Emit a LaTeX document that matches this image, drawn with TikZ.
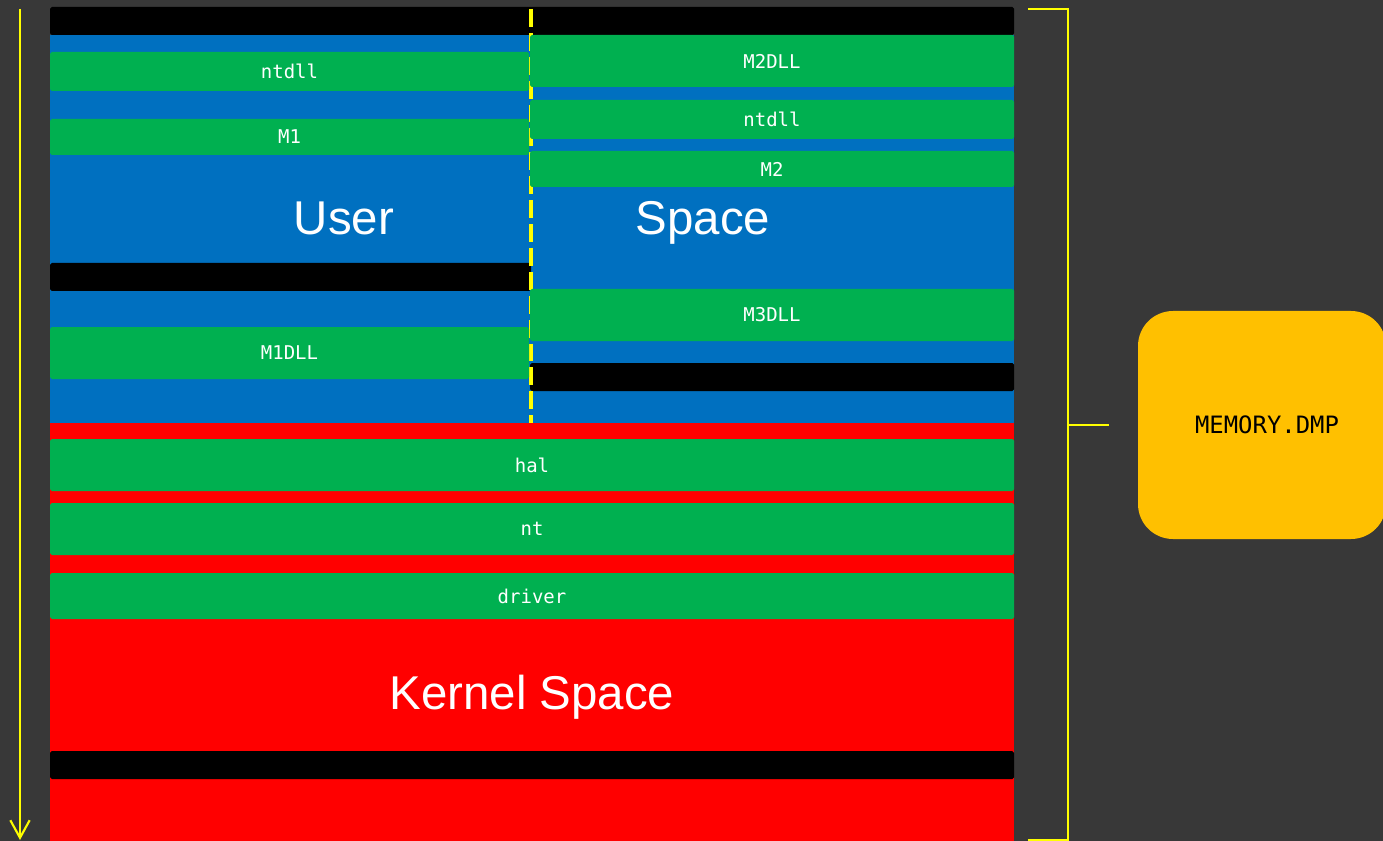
\documentclass[tikz,border=0pt]{standalone}
\usepackage{fontspec}
\setmainfont{Liberation Sans}
\newfontfamily\labelfont{DejaVu Sans Mono}
\usetikzlibrary{arrows.meta}

\definecolor{bgdark}{HTML}{383838}
\definecolor{userblue}{HTML}{0070C0}
\definecolor{modgreen}{HTML}{00B050}
\definecolor{kernelred}{HTML}{FF0000}
\definecolor{markyellow}{HTML}{FFFF00}
\definecolor{dumpgold}{HTML}{FFC000}

\begin{document}
\begin{tikzpicture}[x=0.02cm, y=-0.02cm,
    modbox/.style={fill=modgreen, rounded corners=1pt},
    gapbar/.style={fill=black, rounded corners=1pt},
    lbl/.style={text=white, font=\labelfont\fontsize{10.8}{12}\selectfont},
    bigtext/.style={text=white, anchor=base, font=\fontsize{27}{32}\selectfont},
    marker/.style={draw=markyellow, line width=1.2pt}]
    \clip (0,0) rectangle (1383,841);
    \fill[bgdark] (0,0) rectangle (1383,841);

    % address direction
    \coordinate (addrtop) at (20,9);
    \coordinate (addrend) at (20,840);
    \draw[marker, -{Straight Barb[length=10pt, width=11pt]}] (addrtop) -- (addrend);

    % user / kernel space
    \fill[userblue] (50,35) rectangle (1014,423);
    \fill[kernelred] (50,423) rectangle (1014,841);

    \fill[gapbar] (50,7) rectangle (1014,35);
    \fill[gapbar] (50,263) rectangle (531,291);
    \fill[gapbar] (530,363) rectangle (1014,391);
    \fill[gapbar] (50,751) rectangle (1014,779);

    % two processes
    \coordinate (splittop) at (531,9);
    \coordinate (splitend) at (531,423);
    \draw[draw=markyellow, line width=2.8pt, dash pattern=on 10.2pt off 3.4pt] (splittop) -- (splitend);

    \foreach \xa/\ya/\xb/\yb/\name/\txt in {
        50/52/529/91/ntdllA/ntdll, 50/119/529/155/mA/M1, 50/327/529/379/mAdll/M1DLL,
        530/35/1014/87/mBdll/M2DLL, 530/100/1014/139/ntdllB/ntdll, 530/151/1014/187/mB/M2,
        530/289/1014/341/mCdll/M3DLL,
        50/439/1014/491/hal/hal, 50/503/1014/555/nt/nt, 50/573/1014/619/driver/driver}{
      \fill[modbox] (\xa,\ya) rectangle (\xb,\yb);
      \node[lbl] (\name) at ({(\xa+\xb)/2},{(\ya+\yb)/2}) {\txt};
    }

    \node[bigtext] (user) at (344,235) {User};
    \node[bigtext] (space) at (703,235) {Space};
    \node[bigtext] (kernel) at (532,709) {Kernel Space};

    % whole dump
    \coordinate (brtop) at (1028,9);
    \coordinate (brbot) at (1028,840);
    \coordinate (brtick) at (1109,425);
    \draw[marker] (brtop) -| (1068,840) -- (brbot);
    \draw[marker] (1068,425) -- (brtick);

    \fill[dumpgold, rounded corners=0.7cm] (1138,311) rectangle (1386,539);
    \node[font=\labelfont\fontsize{13.6}{16}\selectfont] (dump) at (1267,425) {MEMORY.DMP};
\end{tikzpicture}
\end{document}
